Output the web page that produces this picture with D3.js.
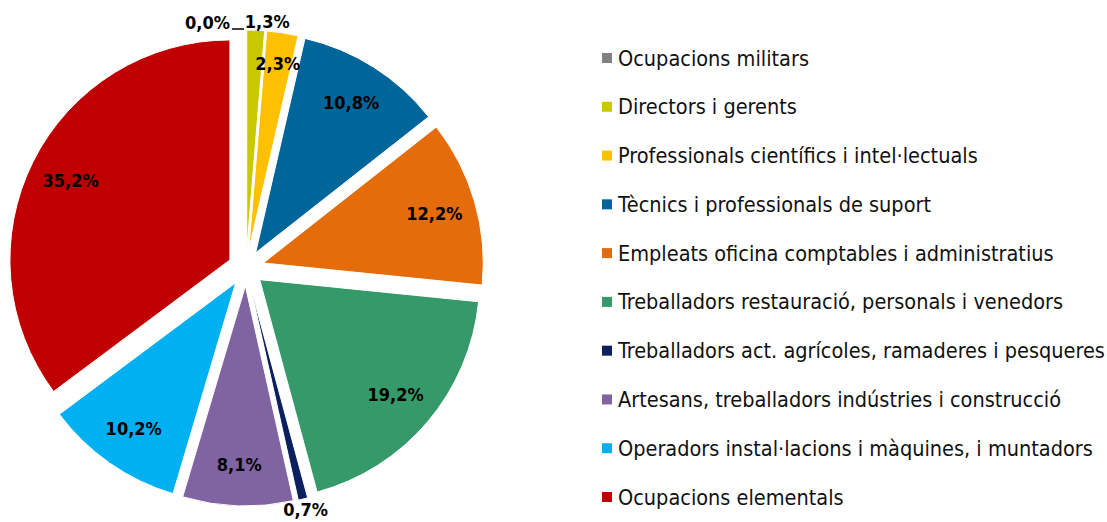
<!DOCTYPE html>
<html><head><meta charset="utf-8">
<script src="https://cdn.jsdelivr.net/npm/d3@7/dist/d3.min.js"></script>
<style>body{margin:0;background:#fff}svg{display:block}
.cond{font-family:"DejaVu Sans Condensed","DejaVu Sans",sans-serif;font-stretch:condensed}</style>
</head><body>
<svg id="c" width="1107" height="522"></svg>
<script>
const categories = [
  "Ocupacions militars",
  "Directors i gerents",
  "Professionals científics i intel·lectuals",
  "Tècnics i professionals de suport",
  "Empleats oficina comptables i administratius",
  "Treballadors restauració, personals i venedors",
  "Treballadors act. agrícoles, ramaderes i pesqueres",
  "Artesans, treballadors indústries i construcció",
  "Operadors instal·lacions i màquines, i muntadors",
  "Ocupacions elementals"
];
const values = [0.0, 1.3, 2.3, 10.8, 12.2, 19.2, 0.7, 8.1, 10.2, 35.2];
const colors = ["#808080","#c9c900","#ffc000","#006699","#e46c0a","#35996a","#0c1f5e","#8064a2","#00b0f0","#c00000"];

const svg = d3.select("#c");
const cx = 246, cy = 268, R = 220, explode = 18;
const fmt = v => d3.format(".1f")(v).replace(".", ",") + "%";

const pie = d3.pie().sort(null).value(d => d.v);
const data = pie(values.map((v, i) => ({v, i})));
const arc = d3.arc().innerRadius(0).outerRadius(R);
const dir = a => [Math.sin(a), -Math.cos(a)];

const g = svg.append("g").attr("transform", `translate(${cx},${cy})`);
data.forEach(d => {
  const mid = (d.startAngle + d.endAngle) / 2;
  const [dx, dy] = dir(mid);
  d.tx = dx * explode; d.ty = dy * explode; d.mid = mid;
});

g.selectAll("path.slice").data(data).join("path")
  .attr("class", "slice")
  .attr("transform", d => `translate(${d.tx},${d.ty})`)
  .attr("d", arc)
  .attr("fill", d => colors[d.data.i])
  .attr("stroke", "#fff").attr("stroke-width", 1);

// labels
const lab = g.append("g").attr("class", "cond")
  .attr("font-weight", "bold").attr("font-size", 18).attr("fill", "#000");
data.forEach(d => {
  const v = d.data.v;
  const [dx, dy] = dir(d.mid);
  if (v >= 2) {
    const r = (v < 5 ? 0.86 : 0.81) * R;
    lab.append("text").attr("x", d.tx + dx * r).attr("y", d.ty + dy * r)
      .attr("text-anchor", "middle").attr("dominant-baseline", "central").text(fmt(v));
  } else if (v === 0) {
    const ox = d.tx + Math.sin(d.startAngle) * R, oy = d.ty - Math.cos(d.startAngle) * R;
    g.append("line").attr("x1", ox - 2).attr("x2", ox - 14).attr("y1", oy - 1).attr("y2", oy - 1)
      .attr("stroke", "#000").attr("stroke-width", 1.5);
    lab.append("text").attr("x", ox - 16).attr("y", oy - 8)
      .attr("text-anchor", "end").attr("dominant-baseline", "central").text(fmt(v));
  } else if (d.mid < 0.3) {
    const ox = d.tx + Math.sin(d.startAngle) * R, oy = d.ty - Math.cos(d.startAngle) * R;
    lab.append("text").attr("x", ox - 2).attr("y", oy - 9)
      .attr("text-anchor", "start").attr("dominant-baseline", "central").text(fmt(v));
  } else {
    const r = R + 11;
    lab.append("text").attr("x", d.tx + dx * r).attr("y", d.ty + dy * r)
      .attr("text-anchor", "middle").attr("dominant-baseline", "central").text(fmt(v));
  }
});

// legend
const ly = d3.scalePoint().domain(d3.range(categories.length)).range([58, 497]);
const leg = svg.append("g").attr("class", "cond").attr("font-size", 21.5);
categories.forEach((c, i) => {
  leg.append("rect").attr("x", 602).attr("y", ly(i) - 5).attr("width", 10).attr("height", 10).attr("fill", colors[i]);
  leg.append("text").attr("x", 618).attr("y", ly(i)).attr("dominant-baseline", "central")
    .attr("fill", "#111").text(c);
});
</script>
</body></html>
